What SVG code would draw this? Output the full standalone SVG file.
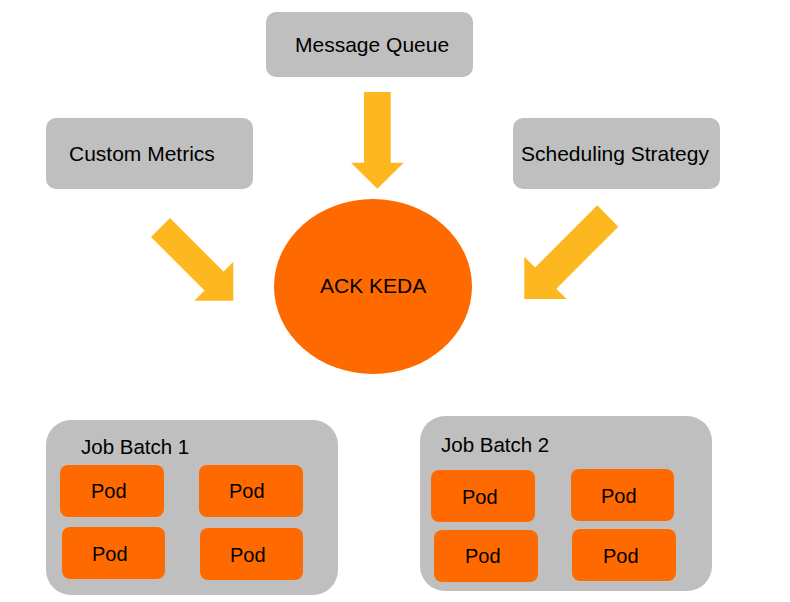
<svg xmlns="http://www.w3.org/2000/svg" width="790" height="602" viewBox="0 0 790 602">
<style>
.box{fill:#BFBFBF}
.pod{fill:#FF6A00}
.arr{fill:#FDB71F}
text{font-family:"Liberation Sans",Arial,sans-serif;font-size:20px;fill:#000}
.lbl{font-size:21px}
.jb{font-size:20.5px}
</style>
<rect width="790" height="602" fill="#fff"/>
<g id="message-queue"><rect class="box" x="266" y="12" width="207" height="65" rx="10"/><text class="lbl" x="295" y="52">Message Queue</text></g>
<g id="custom-metrics"><rect class="box" x="46" y="118" width="207" height="71" rx="10"/><text class="lbl" x="69" y="161">Custom Metrics</text></g>
<g id="scheduling-strategy"><rect class="box" x="513" y="118" width="207" height="71" rx="10"/><text class="lbl" x="521" y="161">Scheduling Strategy</text></g>
<g id="ack-keda"><ellipse cx="373" cy="286.5" rx="99" ry="87.5" fill="#FF6A00"/><text class="lbl" x="320" y="293">ACK KEDA</text></g>
<g id="connectors">
<polygon class="arr" points="364,92 390.7,92 390.7,162.7 403.7,162.7 377.3,188.7 351,162.7 364,162.7"/>
<polygon class="arr" points="151,237 170,218 223.5,271.5 233.3,261.7 233.3,300.7 194.3,300.7 204.5,290.5"/>
<polygon class="arr" points="597.3,205.3 618.3,226.7 556.3,288.7 566.7,299 524.3,299 524.3,256.7 535.1,267.5"/>
</g>
<g id="job-batch-1">
<rect class="box" x="46" y="420" width="292" height="175" rx="25"/>
<text class="jb" x="81" y="454">Job Batch 1</text>
<g id="pod-1-1"><rect class="pod" x="60" y="465" width="104" height="52" rx="8"/><text x="91" y="498">Pod</text></g>
<g id="pod-1-2"><rect class="pod" x="199" y="465" width="104" height="52" rx="8"/><text x="229" y="498">Pod</text></g>
<g id="pod-1-3"><rect class="pod" x="62" y="527" width="103" height="52" rx="8"/><text x="92" y="561">Pod</text></g>
<g id="pod-1-4"><rect class="pod" x="200" y="528" width="103" height="52" rx="8"/><text x="230" y="562">Pod</text></g>
</g>
<g id="job-batch-2">
<rect class="box" x="420" y="416" width="292" height="175" rx="25"/>
<text class="jb" x="441" y="452">Job Batch 2</text>
<g id="pod-2-1"><rect class="pod" x="431" y="470" width="104" height="52" rx="8"/><text x="462" y="504">Pod</text></g>
<g id="pod-2-2"><rect class="pod" x="571" y="469" width="103" height="52" rx="8"/><text x="601" y="503">Pod</text></g>
<g id="pod-2-3"><rect class="pod" x="434" y="530" width="104" height="52" rx="8"/><text x="465" y="563">Pod</text></g>
<g id="pod-2-4"><rect class="pod" x="572" y="529" width="104" height="52" rx="8"/><text x="603" y="563">Pod</text></g>
</g>
</svg>
